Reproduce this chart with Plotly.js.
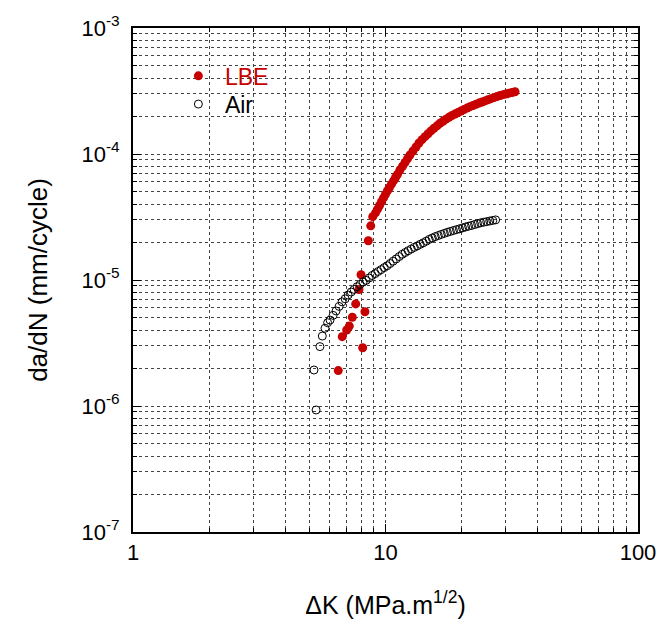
<!DOCTYPE html>
<html>
<head>
<meta charset="utf-8">
<script src="https://cdn.plot.ly/plotly-3.0.1.min.js"></script>
<style>html,body{margin:0;padding:0;background:#fff;}#chart{width:660px;height:621px;}</style>
</head>
<body>
<div id="chart"></div>
<script>
// LBE (filled red circles): ΔK (MPa·m^1/2) and da/dN (mm/cycle)
const lbeDK = [6.50, 6.74, 7.02, 7.19, 7.39, 7.62, 7.85, 8.00, 8.12, 8.29, 8.55, 8.74, 8.90,
  9.13, 9.30, 9.47, 9.64, 9.82, 10.00, 10.18, 10.37, 10.56, 10.76, 10.96, 11.16,
  11.41, 11.68, 11.95, 12.22, 12.50,
  12.85, 13.21, 13.57, 13.95, 14.34, 14.74, 15.14, 15.56, 16.00, 16.44, 16.90, 17.36, 17.85, 18.34,
  18.85, 19.37, 19.91, 20.46, 21.03, 21.61, 22.21, 22.83, 23.46, 24.11, 24.78, 25.46, 26.17, 26.90,
  27.64, 28.41, 29.19, 30.00, 30.84, 31.70, 32.58];
const lbeRate = [1.91e-6, 3.55e-6, 4.01e-6, 4.31e-6, 5.06e-6, 6.46e-6, 8.4e-6, 1.10e-5, 2.90e-6, 5.60e-6, 2.05e-5, 2.69e-5, 3.18e-5,
  3.41e-5, 3.65e-5, 3.90e-5, 4.18e-5, 4.48e-5, 4.79e-5, 5.11e-5, 5.42e-5, 5.76e-5, 6.12e-5, 6.51e-5, 6.91e-5,
  7.46e-5, 7.99e-5, 8.56e-5, 9.17e-5, 9.82e-5,
  1.056e-4, 1.137e-4, 1.223e-4, 1.299e-4, 1.372e-4, 1.449e-4, 1.525e-4, 1.600e-4, 1.674e-4, 1.753e-4,
  1.818e-4, 1.889e-4, 1.959e-4, 2.021e-4, 2.077e-4, 2.135e-4, 2.194e-4, 2.251e-4, 2.314e-4, 2.374e-4,
  2.426e-4, 2.480e-4, 2.535e-4, 2.586e-4, 2.639e-4, 2.697e-4, 2.750e-4, 2.803e-4, 2.855e-4, 2.913e-4,
  2.956e-4, 2.994e-4, 3.038e-4, 3.077e-4, 3.122e-4];

// Air (open black circles)
const airDK = [5.31, 5.21, 5.50, 5.62, 5.76, 5.90,
  6.03, 6.20, 6.37, 6.55, 6.73, 6.92, 7.11, 7.31, 7.51, 7.72, 7.93, 8.15, 8.38, 8.61, 8.85, 9.10, 9.35, 9.61, 9.88,
  10.15, 10.43, 10.72, 11.02, 11.33, 11.65, 11.97, 12.30, 12.65, 13.00, 13.36, 13.73, 14.11, 14.50, 14.90,
  15.32, 15.74, 16.18, 16.63, 17.10, 17.58, 18.07, 18.58, 19.10, 19.63, 20.18, 20.75, 21.33, 21.93, 22.54,
  23.17, 23.82, 24.49, 25.17, 25.88, 26.60, 27.30];
const airRate = [9.3e-7, 1.93e-6, 2.96e-6, 3.59e-6, 4.14e-6, 4.58e-6,
  4.81e-6, 5.24e-6, 5.68e-6, 6.17e-6, 6.71e-6, 7.09e-6, 7.60e-6, 8.03e-6, 8.42e-6, 8.85e-6, 9.23e-6, 9.62e-6, 9.93e-6,
  1.037e-5, 1.086e-5, 1.124e-5, 1.168e-5, 1.209e-5, 1.254e-5,
  1.298e-5, 1.352e-5, 1.41e-5, 1.47e-5, 1.535e-5, 1.60e-5, 1.653e-5, 1.708e-5, 1.762e-5, 1.815e-5, 1.866e-5,
  1.92e-5, 1.973e-5, 2.032e-5, 2.10e-5,
  2.154e-5, 2.21e-5, 2.254e-5, 2.30e-5, 2.344e-5, 2.39e-5, 2.43e-5, 2.47e-5, 2.51e-5, 2.548e-5, 2.59e-5,
  2.635e-5, 2.673e-5, 2.71e-5, 2.757e-5, 2.80e-5, 2.844e-5, 2.875e-5, 2.907e-5, 2.94e-5, 2.97e-5, 3.00e-5];

const xTickVals = [1, 10, 100];
const xTickText = ['1', '10', '100'];
const yTickVals = [1e-7, 1e-6, 1e-5, 1e-4, 1e-3];
const yTickText = ['10<sup>-7</sup>', '10<sup>-6</sup>', '10<sup>-5</sup>', '10<sup>-4</sup>', '10<sup>-3</sup>'];

const FONT = 'Liberation Sans, Arial, Helvetica, sans-serif';

const traces = [
  {x: lbeDK, y: lbeRate, name: 'LBE', type: 'scatter', mode: 'markers', legend: 'legend',
   marker: {symbol: 'circle', size: 9, color: '#c80000', line: {width: 0}}},
  {x: airDK, y: airRate, name: 'Air', type: 'scatter', mode: 'markers', legend: 'legend2',
   marker: {symbol: 'circle-open', size: 8, color: '#000', line: {width: 1, color: '#000'}}}
];

const axisCommon = {
  type: 'log', showline: true, linecolor: '#000', linewidth: 2, mirror: 'allticks',
  ticks: 'inside', ticklen: 8, tickwidth: 1, tickcolor: '#000', tickmode: 'array',
  showgrid: true, gridcolor: '#444', griddash: '3px,3px', gridwidth: 1, zeroline: false,
  tickfont: {family: FONT, size: 22, color: '#000'},
  minor: {dtick: 'D1', showgrid: true, gridcolor: '#444', griddash: '3px,3px', gridwidth: 1,
          ticks: 'inside', ticklen: 4, tickcolor: '#000', tickwidth: 1}
};

const legendCommon = {xanchor: 'left', yanchor: 'middle', bgcolor: 'rgba(0,0,0,0)', itemwidth: 43,
                      font: {family: FONT, size: 23, color: '#000'}};

const layout = {
  width: 660, height: 621,
  margin: {l: 133, r: 22, t: 28, b: 89},
  paper_bgcolor: '#fff', plot_bgcolor: '#fff',
  showlegend: true,
  legend: Object.assign({}, legendCommon, {x: 0.077, y: 0.905, font: {family: FONT, size: 23, color: '#c80000'}}),
  legend2: Object.assign({}, legendCommon, {x: 0.077, y: 0.849}),
  xaxis: Object.assign({}, axisCommon, {
    range: [0, 2], tickvals: xTickVals, ticktext: xTickText,
    title: {text: '\u0394K (MPa.m<sup>1/2</sup>)', font: {family: FONT, size: 25, color: '#000'}, standoff: 32}
  }),
  yaxis: Object.assign({}, axisCommon, {
    range: [-7, -3], tickvals: yTickVals, ticktext: yTickText, ticklabelstandoff: 7,
    title: {text: 'da/dN (mm/cycle)', font: {family: FONT, size: 26, color: '#000'}, standoff: 26}
  })
};

Plotly.newPlot('chart', traces, layout, {displayModeBar: false, staticPlot: true});
</script>
</body>
</html>
